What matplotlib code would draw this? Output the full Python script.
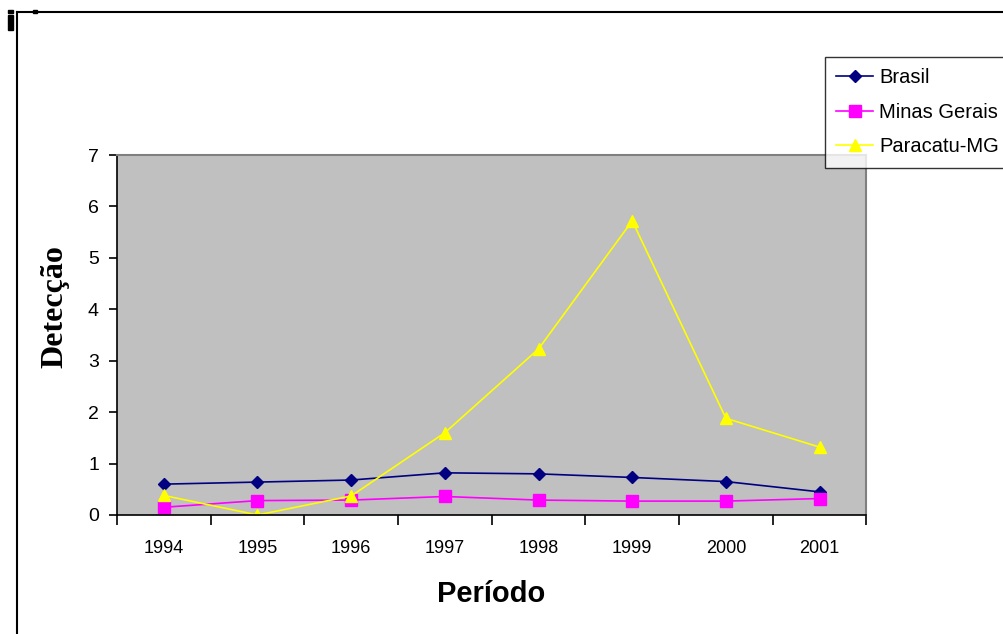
import matplotlib.pyplot as plt
from matplotlib.patches import Rectangle
from matplotlib.lines import Line2D

plt.rcParams['font.family'] = ['Liberation Sans', 'DejaVu Sans']

# Data
years = ['1994', '1995', '1996', '1997', '1998', '1999', '2000', '2001']
brasil = [0.60, 0.64, 0.68, 0.82, 0.80, 0.73, 0.65, 0.45]
minas_gerais = [0.15, 0.28, 0.29, 0.36, 0.29, 0.27, 0.27, 0.32]
paracatu = [0.38, 0.0, 0.37, 1.60, 3.23, 5.72, 1.88, 1.32]

fig = plt.figure(figsize=(10.04, 6.34), dpi=100)
ax = fig.add_axes([0.1165, 0.1877, 0.7465, 0.5678])
ax.set_facecolor('#C0C0C0')

x = list(range(len(years)))
ax.plot(x, brasil, color='#000080', marker='D', markersize=6.5, lw=1.2, label='Brasil')
ax.plot(x, minas_gerais, color='#FF00FF', marker='s', markersize=8, lw=1.2, label='Minas Gerais')
ax.plot(x, paracatu, color='#FFFF00', marker='^', markersize=8.5, lw=1.2, label='Paracatu-MG')

ax.set_xlim(-0.5, len(years) - 0.5)
ax.set_ylim(0, 7)
ax.set_yticks(range(0, 8))
ax.set_xticks([i - 0.5 for i in range(len(years) + 1)])
ax.set_xticklabels([])
ax.set_xticks(x, minor=True)
ax.set_xticklabels(years, minor=True)
ax.tick_params(axis='x', which='major', direction='out', length=7, width=1.2)
ax.tick_params(axis='x', which='minor', length=0, pad=18, labelsize=13)
ax.tick_params(axis='y', direction='out', length=6, width=1.2, labelsize=14, pad=7)

for side in ['left', 'bottom']:
    ax.spines[side].set_color('black')
    ax.spines[side].set_linewidth(1.2)
for side in ['top', 'right']:
    ax.spines[side].set_color('#808080')
    ax.spines[side].set_linewidth(1.5)

ax.set_xlabel('Período', fontsize=21, fontweight='bold', va='center')
ax.xaxis.set_label_coords(0.499, -0.219)
ax.set_ylabel('Detecção', fontsize=23, fontweight='bold', family='Liberation Serif', va='center')
ax.yaxis.set_label_coords(-0.0834, 0.58)

leg = fig.legend(loc='upper left', bbox_to_anchor=(0.8217, 0.9101), fontsize=14.5,
                 frameon=True, fancybox=False, edgecolor='black', handlelength=1.85,
                 borderpad=0.55, labelspacing=0.78, handletextpad=0.3, borderaxespad=0)
leg.get_frame().set_linewidth(1.0)

# chart area border (partially visible)
fig.add_artist(Line2D([0.0169, 0.0169], [0, 0.981], color='black', lw=1.5))
fig.add_artist(Line2D([0.0169, 1.0], [0.981, 0.981], color='black', lw=1.5))
fig.add_artist(Rectangle((0.008, 0.953), 0.005, 0.024, color='black'))
fig.add_artist(Rectangle((0.008, 0.979), 0.005, 0.005, color='black'))
fig.add_artist(Rectangle((0.033, 0.979), 0.004, 0.005, color='black'))

fig.savefig('out.png', dpi=100)
